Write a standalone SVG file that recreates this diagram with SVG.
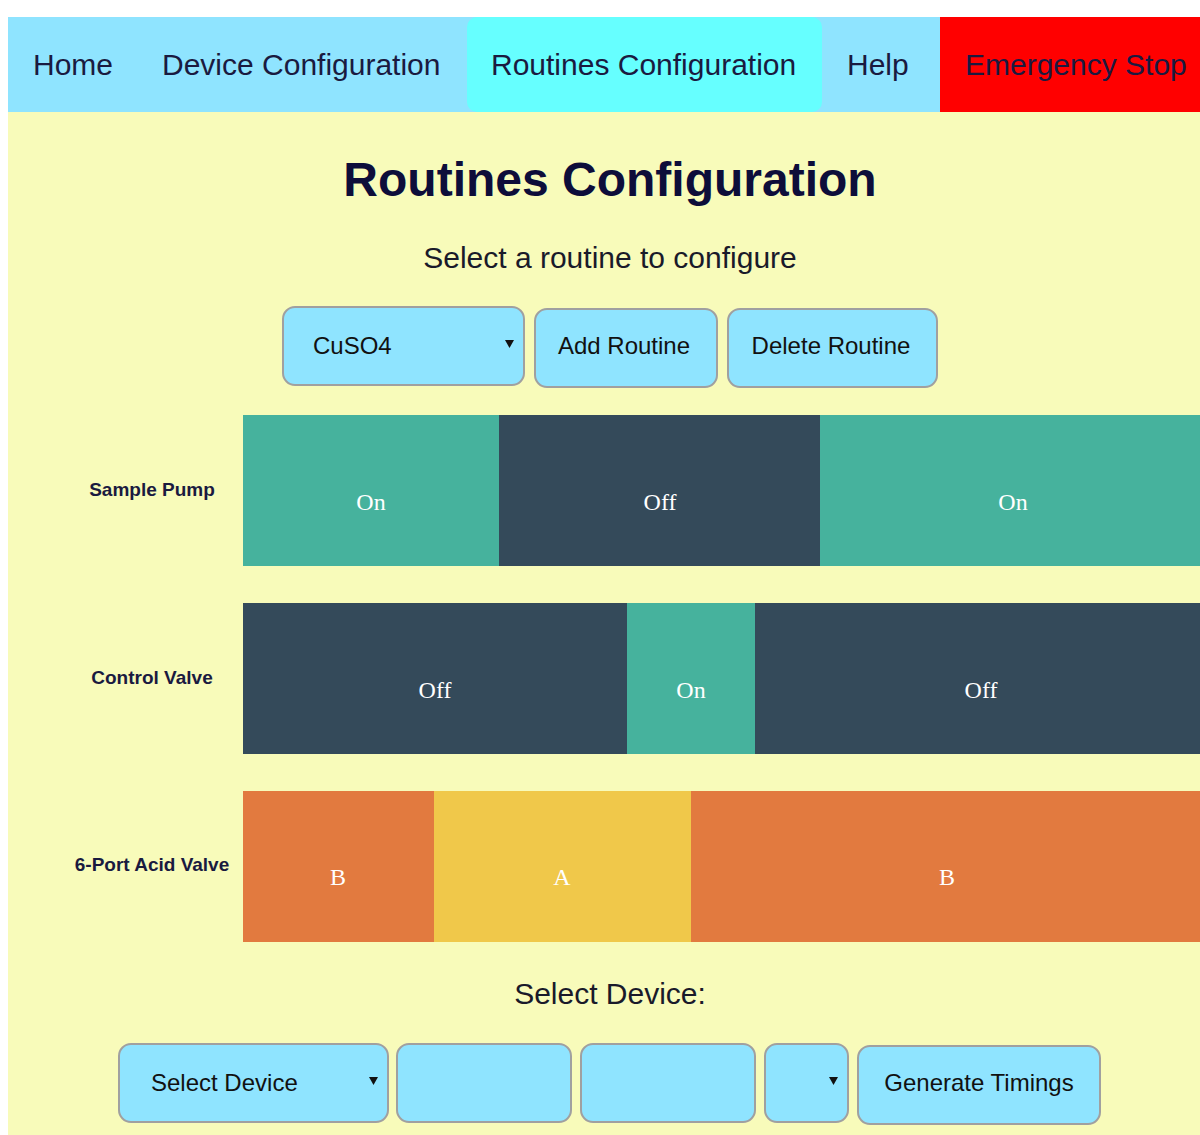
<svg xmlns="http://www.w3.org/2000/svg" width="1200" height="1135" viewBox="0 0 1200 1135">
<style>
.nav{font-family:"Liberation Sans",Arial,sans-serif;font-size:30px;fill:#1a1a40}
.ctl{fill:#8fe4ff;stroke:#a0a0a0;stroke-width:2}
.btn{fill:#8fe4ff;stroke:#a0a0a0;stroke-width:2}
.ct{font-family:"Liberation Sans",Arial,sans-serif;font-size:24px;fill:#111}
.lbl{font-family:"Liberation Sans",Arial,sans-serif;font-size:19px;font-weight:bold;fill:#1a1a40;text-anchor:middle}
.seg{font-family:"Liberation Serif","Times New Roman",serif;font-size:24px;fill:#fff;text-anchor:middle}
.on{fill:#46b29d}.off{fill:#344a5a}.b{fill:#e27a3f}.a{fill:#f0c84a}
.arr{fill:#111}
</style>
<rect x="0" y="0" width="1200" height="1135" fill="#fff"/>
<rect x="8" y="112" width="1192" height="1023" fill="#f8fbba"/>
<g id="nav">
<rect x="8" y="17" width="1192" height="95" fill="#8fe4ff"/>
<rect x="467" y="17" width="355" height="95" rx="10" fill="#66ffff"/>
<rect x="940" y="17" width="260" height="95" fill="#ff0000"/>
<text class="nav" x="33" y="75">Home</text>
<text class="nav" x="162" y="75">Device Configuration</text>
<text class="nav" x="491" y="75">Routines Configuration</text>
<text class="nav" x="847" y="75">Help</text>
<text class="nav" x="965" y="75">Emergency Stop</text>
</g>
<g id="title">
<text x="610" y="196" text-anchor="middle" font-family="'Liberation Sans',Arial,sans-serif" font-size="48" font-weight="bold" fill="#0d0d3a">Routines Configuration</text>
<text x="610" y="268" text-anchor="middle" font-family="'Liberation Sans',Arial,sans-serif" font-size="30" fill="#1a1a2a">Select a routine to configure</text>
</g>
<g id="routine-select">
<rect class="ctl" x="283" y="307" width="241" height="78" rx="12"/>
<text class="ct" x="313" y="354">CuSO4</text>
<path class="arr" d="M505 340h9l-4.5 8z"/>
</g>
<g id="add-routine">
<rect class="btn" x="535" y="309" width="182" height="78" rx="12"/>
<text class="ct" x="624" y="354" text-anchor="middle">Add Routine</text>
</g>
<g id="delete-routine">
<rect class="btn" x="728" y="309" width="209" height="78" rx="12"/>
<text class="ct" x="831" y="354" text-anchor="middle">Delete Routine</text>
</g>
<g id="row-sample-pump">
<text class="lbl" x="152" y="496">Sample Pump</text>
<rect class="on" x="243" y="415" width="256" height="151"/>
<rect class="off" x="499" y="415" width="321" height="151"/>
<rect class="on" x="820" y="415" width="380" height="151"/>
<text class="seg" x="371" y="510">On</text>
<text class="seg" x="660" y="510">Off</text>
<text class="seg" x="1013" y="510">On</text>
</g>
<g id="row-control-valve">
<text class="lbl" x="152" y="684">Control Valve</text>
<rect class="off" x="243" y="603" width="384" height="151"/>
<rect class="on" x="627" y="603" width="128" height="151"/>
<rect class="off" x="755" y="603" width="445" height="151"/>
<text class="seg" x="435" y="698">Off</text>
<text class="seg" x="691" y="698">On</text>
<text class="seg" x="981" y="698">Off</text>
</g>
<g id="row-acid-valve">
<text class="lbl" x="152" y="871">6-Port Acid Valve</text>
<rect class="b" x="243" y="791" width="191" height="151"/>
<rect class="a" x="434" y="791" width="257" height="151"/>
<rect class="b" x="691" y="791" width="509" height="151"/>
<text class="seg" x="338" y="885">B</text>
<text class="seg" x="562" y="885">A</text>
<text class="seg" x="947" y="885">B</text>
</g>
<text x="610" y="1004" text-anchor="middle" font-family="'Liberation Sans',Arial,sans-serif" font-size="30" fill="#1a1a2a">Select Device:</text>
<g id="device-select">
<rect class="ctl" x="119" y="1044" width="269" height="78" rx="12"/>
<text class="ct" x="151" y="1091">Select Device</text>
<path class="arr" d="M369 1077h9l-4.5 8z"/>
</g>
<g id="input-1"><rect class="btn" x="397" y="1044" width="174" height="78" rx="12"/></g>
<g id="input-2"><rect class="btn" x="581" y="1044" width="174" height="78" rx="12"/></g>
<g id="state-select">
<rect class="ctl" x="765" y="1044" width="83" height="78" rx="12"/>
<path class="arr" d="M829 1077h9l-4.5 8z"/>
</g>
<g id="generate-timings">
<rect class="btn" x="858" y="1046" width="242" height="78" rx="12"/>
<text class="ct" x="979" y="1091" text-anchor="middle">Generate Timings</text>
</g>
<g id="connectors"/>
</svg>
